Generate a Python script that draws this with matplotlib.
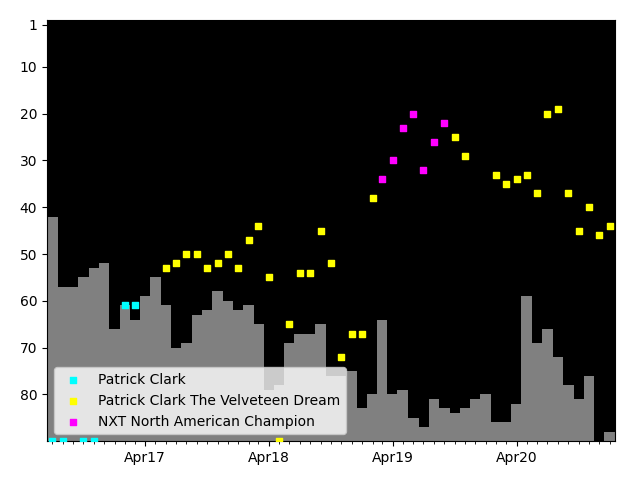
import numpy as np
import pandas as pd
import matplotlib
matplotlib.use("Agg")
import matplotlib.pyplot as plt
import matplotlib.dates as mdates

# monthly rank (bars), Jul 2016 .. Jan 2021; None = no rank that month
BAR_START = "2016-07-01"
bar_ranks = [42, 57, 57, 55, 53, 52, 66, 61, 64, 59, 55, 61,
             70, 69, 63, 62, 58, 60, 62, 61, 65, 79, 78, 69,
             67, 67, 65, 76, 76, 75, 83, 80, 64, 80, 79, 85,
             87, 81, 83, 84, 83, 81, 80, 86, 86, 82, 59, 69,
             66, 72, 78, 81, 76, None, 88]

# title-holder points (90 = off the bottom of the chart)
clark_months = ["2016-07", "2016-08", "2016-10", "2016-11", "2017-02", "2017-03"]
clark_ranks = [90, 90, 90, 90, 61, 61]

dream_months = ["2017-06", "2017-07", "2017-08", "2017-09", "2017-10", "2017-11",
                "2017-12", "2018-01", "2018-02", "2018-03", "2018-04", "2018-05",
                "2018-06", "2018-07", "2018-08", "2018-09", "2018-10", "2018-11",
                "2018-12", "2019-01", "2019-02", "2019-10", "2019-11", "2020-02",
                "2020-03", "2020-04", "2020-05", "2020-06", "2020-07", "2020-08",
                "2020-09", "2020-10", "2020-11", "2020-12", "2021-01"]
dream_ranks = [53, 52, 50, 50, 53, 52, 50, 53, 47, 44, 55, 90,
               65, 54, 54, 45, 52, 72, 67, 67, 38, 25, 29, 33,
               35, 34, 33, 37, 20, 19, 37, 45, 40, 46, 44]

champ_months = ["2019-03", "2019-04", "2019-05", "2019-06", "2019-07", "2019-08", "2019-09"]
champ_ranks = [34, 30, 23, 20, 32, 26, 22]

YMAX = 90
YTICKS = [1, 10, 20, 30, 40, 50, 60, 70, 80]

bar_dates = pd.date_range(BAR_START, periods=len(bar_ranks), freq="MS")
bar_vals = np.array([np.nan if v is None else v for v in bar_ranks], dtype=float)

fig = plt.figure(figsize=(6.4, 4.8), dpi=100)
ax = fig.add_axes([0.0734, 0.081, 0.8876, 0.877])
ax.set_facecolor("black")

# bars hang from the bottom of the (inverted) axis up to the rank
ax.bar(bar_dates, bar_vals - YMAX, bottom=YMAX, width=31.5, color="gray",
       linewidth=0, zorder=1)

ax.scatter(pd.to_datetime(clark_months), clark_ranks, marker="s", s=22,
           color="cyan", label="Patrick Clark", zorder=3)
ax.scatter(pd.to_datetime(dream_months), dream_ranks, marker="s", s=22,
           color="yellow", label="Patrick Clark The Velveteen Dream", zorder=3)
ax.scatter(pd.to_datetime(champ_months), champ_ranks, marker="s", s=22,
           color="magenta", label="NXT North American Champion", zorder=3)

ax.set_ylim(YMAX, 0)
ax.set_yticks(YTICKS)
ax.set_xlim(bar_dates[0] - pd.Timedelta(days=15.5), bar_dates[-1] + pd.Timedelta(days=15.5))
ax.xaxis.set_major_locator(mdates.MonthLocator(bymonth=4))
ax.xaxis.set_minor_locator(mdates.MonthLocator())
ax.xaxis.set_major_formatter(mdates.DateFormatter("%b%y"))

ax.legend(loc="lower left", scatterpoints=1)

fig.savefig("out.png", dpi=100)
